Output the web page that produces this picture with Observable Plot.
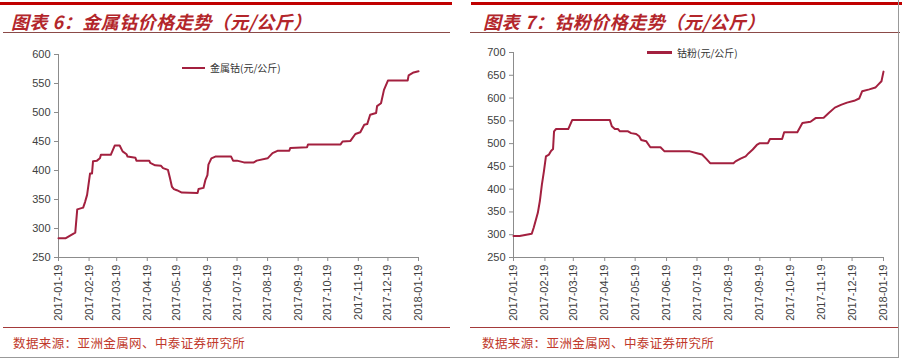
<!DOCTYPE html>
<html>
<head>
<meta charset="utf-8">
<script src="https://cdn.jsdelivr.net/npm/d3@7"></script>
<script src="https://cdn.jsdelivr.net/npm/@observablehq/plot@0.6"></script>
<style>
  html, body { margin: 0; padding: 0; background: #fff; }
  #page { position: relative; width: 902px; height: 362px; overflow: hidden; background: #fff; font-family: "Noto Sans CJK SC", sans-serif; }
  .abs { position: absolute; }
  .bar { position: absolute; height: 3px; background: #C00000; }
  .hline { position: absolute; height: 1px; }
  .title { position: absolute; top: 8px; font-size: 18px; font-weight: bold; font-style: italic; color: #B3262B; white-space: nowrap; letter-spacing: 0.5px; }
  .caption { position: absolute; top: 333px; font-size: 12.5px; color: #C0392B; white-space: nowrap; letter-spacing: 0.4px; }
  .legend { position: absolute; font-size: 10px; color: #333; white-space: nowrap; display: flex; align-items: center; }
  .legend .sw { display: inline-block; margin-right: 5px; background: #A3203F; }
  .chart { position: absolute; top: 40px; }
</style>
</head>
<body>
<div id="page">
  <div class="bar" style="left:0;top:2px;width:452px;"></div>
  <div class="bar" style="left:471px;top:2px;width:431px;"></div>
  <div class="title" style="left:11px;">图表 6：金属钴价格走势（元/公斤）</div>
  <div class="title" style="left:483px;">图表 7：钴粉价格走势（元/公斤）</div>
  <div class="hline" style="left:3px;top:32px;width:447px;background:#8B4A48;"></div>
  <div class="hline" style="left:470px;top:32px;width:430px;background:#8B4A48;"></div>

  <div class="legend" style="left:182px;top:60px;"><span class="sw" style="width:23px;height:2px;"></span><span id="lg1"></span></div>
  <div class="legend" style="left:647px;top:45px;"><span class="sw" style="width:25px;height:3px;"></span><span id="lg2"></span></div>

  <div id="c1" class="chart" style="left:0;"></div>
  <div id="c2" class="chart" style="left:450px;"></div>

  <div class="hline" style="left:3px;top:327px;width:447px;background:#A33A3A;"></div>
  <div class="hline" style="left:470px;top:327px;width:428px;background:#A33A3A;"></div>
  <div class="caption" style="left:13px;" id="cap1"></div>
  <div class="caption" style="left:482px;" id="cap2"></div>
  <div class="hline" style="left:0;top:357px;width:898px;background:#999;"></div>
  <div class="abs" style="left:898px;top:0;width:1px;height:358px;background:#999;"></div>
</div>
<script>
// ---- Data ----
const titles = ["图表 6：金属钴价格走势（元/公斤）", "图表 7：钴粉价格走势（元/公斤）"];
const seriesNames = ["金属钴(元/公斤)", "钴粉(元/公斤)"];
const sourceText = "数据来源：亚洲金属网、中泰证券研究所";

const xTickLabels = ["2017-01-19","2017-02-19","2017-03-19","2017-04-19","2017-05-19","2017-06-19",
  "2017-07-19","2017-08-19","2017-09-19","2017-10-19","2017-11-19","2017-12-19","2018-01-19"];
const yTicksMetal = [250, 300, 350, 400, 450, 500, 550, 600];
const yTicksPowder = [250, 300, 350, 400, 450, 500, 550, 600, 650, 700];

const metalDates = ["2017-01-19","2017-01-26","2017-02-05","2017-02-07","2017-02-13","2017-02-15","2017-02-17",
  "2017-02-20","2017-02-22","2017-02-23","2017-02-27","2017-03-02","2017-03-03","2017-03-13","2017-03-17",
  "2017-03-22","2017-03-25","2017-03-29","2017-03-30","2017-04-07","2017-04-08","2017-04-21","2017-04-22",
  "2017-04-27","2017-05-03","2017-05-05","2017-05-10","2017-05-12","2017-05-14","2017-05-16","2017-05-19",
  "2017-05-24","2017-06-09","2017-06-10","2017-06-15","2017-06-17","2017-06-19","2017-06-20","2017-06-23",
  "2017-06-27","2017-07-13","2017-07-15","2017-07-19","2017-07-26","2017-08-05","2017-08-08","2017-08-19",
  "2017-08-24","2017-08-29","2017-09-10","2017-09-11","2017-09-28","2017-09-29","2017-11-01","2017-11-03",
  "2017-11-11","2017-11-16","2017-11-21","2017-11-25","2017-11-28","2017-12-01","2017-12-07","2017-12-08",
  "2017-12-12","2017-12-15","2017-12-19","2018-01-08","2018-01-09","2018-01-14","2018-01-19"];
const metalValues = [283,283,293,333,336,346,358,
  395,395,416,417,421,427,427,443,
  443,433,428,424,422,417,417,413,
  409,408,404,401,387,372,368,366,
  362,361,368,370,384,392,410,421,
  424,424,417,417,414,414,417,421,
  430,434,434,439,440,445,445,450,
  451,463,466,479,480,496,499,511,
  516,539,555,555,564,569,571];

const powderDates = ["2017-01-19","2017-01-25","2017-02-06","2017-02-08","2017-02-12","2017-02-14","2017-02-16",
  "2017-02-18","2017-02-20","2017-02-23","2017-02-25","2017-02-27","2017-02-28","2017-03-02","2017-03-14",
  "2017-03-18","2017-04-24","2017-04-26","2017-04-29","2017-05-02","2017-05-04","2017-05-12","2017-05-15",
  "2017-05-20","2017-05-23","2017-05-25","2017-05-30","2017-06-03","2017-06-13","2017-06-17","2017-07-12",
  "2017-07-19","2017-07-24","2017-07-28","2017-08-01","2017-08-24","2017-08-26","2017-08-31","2017-09-05",
  "2017-09-08","2017-09-12","2017-09-16","2017-09-19","2017-09-27","2017-09-29","2017-10-11","2017-10-13",
  "2017-10-26","2017-10-31","2017-11-08","2017-11-13","2017-11-21","2017-11-26","2017-12-02","2017-12-08",
  "2017-12-14","2017-12-21","2017-12-26","2017-12-29","2018-01-05","2018-01-11","2018-01-14","2018-01-17",
  "2018-01-19"];
const powderValues = [297,297,302,316,348,374,410,
  439,472,476,484,488,527,532,532,
  552,552,538,532,532,527,527,523,
  521,516,508,505,492,492,483,483,
  479,476,467,457,457,461,467,472,
  479,487,497,501,501,510,510,525,
  525,545,548,556,557,567,579,585,
  590,594,599,615,619,623,630,637,
  658];

// ---- Build ----
const parse = d3.utcParse("%Y-%m-%d");
const fmt = d3.utcFormat("%Y-%m-%d");
const xTicks = xTickLabels.map(parse);
const lineColor = "#A3203F";
const axisColor = "#8c8c8c";

function makeChart(dates, values, yTicks, opts) {
  const data = dates.map((d, i) => ({date: parse(d), value: values[i]}));
  const x0 = xTicks[0], x1 = xTicks[xTicks.length - 1];
  return Plot.plot({
    width: opts.width,
    height: 277,
    marginLeft: opts.marginLeft,
    marginRight: opts.marginRight,
    marginTop: opts.marginTop,
    marginBottom: 60,
    x: {type: "utc", domain: [x0, x1]},
    y: {domain: [yTicks[0], yTicks[yTicks.length - 1]]},
    style: {fontFamily: "'Liberation Sans', Arial, sans-serif", fontSize: "11px", color: "#404040", background: "transparent", overflow: "visible"},
    marks: [
      Plot.ruleX([x0], {stroke: axisColor}),
      Plot.ruleY([yTicks[0]], {stroke: axisColor}),
      Plot.axisY({ticks: yTicks, tickSize: 4, tickPadding: 4, label: null, stroke: axisColor, fill: "#404040"}),
      Plot.axisX({ticks: xTicks, tickFormat: fmt, tickRotate: -90, tickSize: 4, tickPadding: 3, label: null, stroke: axisColor, fill: "#404040"}),
      Plot.line(data, {x: "date", y: "value", stroke: lineColor, strokeWidth: 2, strokeLinejoin: "round"})
    ]
  });
}

document.getElementById("c1").append(makeChart(metalDates, metalValues, yTicksMetal,
  {width: 450, marginLeft: 58, marginRight: 32, marginTop: 14}));
document.getElementById("c2").append(makeChart(powderDates, powderValues, yTicksPowder,
  {width: 452, marginLeft: 63, marginRight: 19, marginTop: 12}));

document.getElementById("lg1").textContent = seriesNames[0];
document.getElementById("lg2").textContent = seriesNames[1];
document.getElementById("cap1").textContent = sourceText;
document.getElementById("cap2").textContent = sourceText;
</script>
</body>
</html>
